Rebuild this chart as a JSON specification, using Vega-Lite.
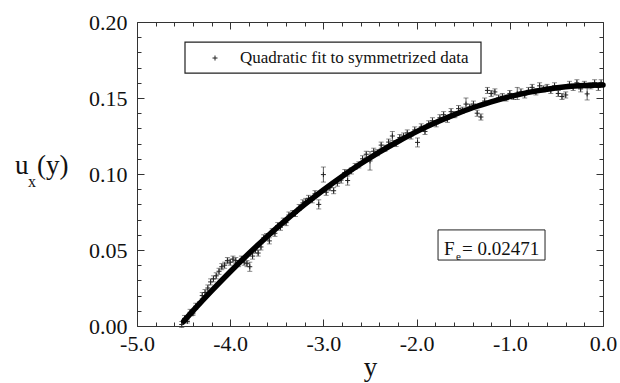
{
  "$schema": "https://vega.github.io/schema/vega-lite/v6.json",
  "autosize": {"type": "none"},
  "width": 466,
  "height": 304,
  "padding": {"left": 137, "top": 22, "right": 17, "bottom": 57},
  "background": "white",
  "config": {
    "view": {"stroke": "#333", "strokeWidth": 1},
    "font": "Liberation Serif",
    "scale": {"continuousPadding": 0},
    "axis": {"grid": false, "domain": false, "labelFlush": false, "labelOverlap": false, "labelFont": "Liberation Serif", "titleFont": "Liberation Serif", "tickColor": "#333", "tickWidth": 1}
  },
  "datasets": {
    "fit": [
      {"x": -4.5, "u": 0.0031}, {"x": -4.4, "u": 0.0099}, {"x": -4.2, "u": 0.0231}, {"x": -4.0, "u": 0.0357},
      {"x": -3.8, "u": 0.0477}, {"x": -3.6, "u": 0.0591}, {"x": -3.4, "u": 0.0698}, {"x": -3.2, "u": 0.08},
      {"x": -3.0, "u": 0.0895}, {"x": -2.8, "u": 0.0984}, {"x": -2.6, "u": 0.1067}, {"x": -2.4, "u": 0.1144},
      {"x": -2.2, "u": 0.1214}, {"x": -2.0, "u": 0.1279}, {"x": -1.8, "u": 0.1337}, {"x": -1.6, "u": 0.1389},
      {"x": -1.4, "u": 0.1436}, {"x": -1.2, "u": 0.1475}, {"x": -1.0, "u": 0.1509}, {"x": -0.8, "u": 0.1537},
      {"x": -0.6, "u": 0.1558}, {"x": -0.4, "u": 0.1574}, {"x": -0.2, "u": 0.1583}, {"x": 0.0, "u": 0.1586}
    ],
    "pts": [
      {"x": -4.52, "u": 0.001, "lo": -0.001, "hi": 0.003},
      {"x": -4.49, "u": 0.005, "lo": 0.003, "hi": 0.007},
      {"x": -4.46, "u": 0.003, "lo": 0.002, "hi": 0.004},
      {"x": -4.43, "u": 0.009, "lo": 0.007, "hi": 0.011},
      {"x": -4.40, "u": 0.008, "lo": 0.007, "hi": 0.009},
      {"x": -4.37, "u": 0.013, "lo": 0.011, "hi": 0.015},
      {"x": -4.33, "u": 0.015, "lo": 0.014, "hi": 0.016},
      {"x": -4.30, "u": 0.020, "lo": 0.018, "hi": 0.022},
      {"x": -4.27, "u": 0.022, "lo": 0.020, "hi": 0.024},
      {"x": -4.24, "u": 0.025, "lo": 0.023, "hi": 0.027},
      {"x": -4.21, "u": 0.029, "lo": 0.027, "hi": 0.031},
      {"x": -4.18, "u": 0.031, "lo": 0.029, "hi": 0.033},
      {"x": -4.15, "u": 0.033, "lo": 0.031, "hi": 0.035},
      {"x": -4.12, "u": 0.036, "lo": 0.034, "hi": 0.038},
      {"x": -4.09, "u": 0.039, "lo": 0.037, "hi": 0.041},
      {"x": -4.06, "u": 0.040, "lo": 0.038, "hi": 0.042},
      {"x": -4.03, "u": 0.043, "lo": 0.041, "hi": 0.045},
      {"x": -4.00, "u": 0.042, "lo": 0.040, "hi": 0.044},
      {"x": -3.97, "u": 0.044, "lo": 0.042, "hi": 0.046},
      {"x": -3.94, "u": 0.043, "lo": 0.041, "hi": 0.045},
      {"x": -3.91, "u": 0.041, "lo": 0.039, "hi": 0.043},
      {"x": -3.88, "u": 0.044, "lo": 0.042, "hi": 0.046},
      {"x": -3.85, "u": 0.042, "lo": 0.040, "hi": 0.044},
      {"x": -3.82, "u": 0.041, "lo": 0.039, "hi": 0.043},
      {"x": -3.79, "u": 0.039, "lo": 0.036, "hi": 0.042},
      {"x": -3.76, "u": 0.046, "lo": 0.044, "hi": 0.048},
      {"x": -3.73, "u": 0.050, "lo": 0.048, "hi": 0.052},
      {"x": -3.70, "u": 0.048, "lo": 0.046, "hi": 0.050},
      {"x": -3.67, "u": 0.052, "lo": 0.050, "hi": 0.054},
      {"x": -3.64, "u": 0.058, "lo": 0.056, "hi": 0.060},
      {"x": -3.61, "u": 0.059, "lo": 0.057, "hi": 0.061},
      {"x": -3.58, "u": 0.056, "lo": 0.054, "hi": 0.058},
      {"x": -3.55, "u": 0.062, "lo": 0.060, "hi": 0.064},
      {"x": -3.52, "u": 0.061, "lo": 0.059, "hi": 0.063},
      {"x": -3.49, "u": 0.066, "lo": 0.064, "hi": 0.068},
      {"x": -3.46, "u": 0.065, "lo": 0.063, "hi": 0.067},
      {"x": -3.43, "u": 0.069, "lo": 0.067, "hi": 0.071},
      {"x": -3.40, "u": 0.068, "lo": 0.066, "hi": 0.070},
      {"x": -3.37, "u": 0.073, "lo": 0.071, "hi": 0.075},
      {"x": -3.33, "u": 0.074, "lo": 0.072, "hi": 0.076},
      {"x": -3.30, "u": 0.074, "lo": 0.072, "hi": 0.076},
      {"x": -3.26, "u": 0.078, "lo": 0.076, "hi": 0.080},
      {"x": -3.22, "u": 0.081, "lo": 0.079, "hi": 0.083},
      {"x": -3.19, "u": 0.082, "lo": 0.080, "hi": 0.084},
      {"x": -3.16, "u": 0.084, "lo": 0.082, "hi": 0.086},
      {"x": -3.12, "u": 0.083, "lo": 0.081, "hi": 0.085},
      {"x": -3.09, "u": 0.087, "lo": 0.085, "hi": 0.089},
      {"x": -3.05, "u": 0.080, "lo": 0.077, "hi": 0.083},
      {"x": -3.00, "u": 0.0996, "lo": 0.0947, "hi": 0.1046},
      {"x": -2.97, "u": 0.088, "lo": 0.086, "hi": 0.090},
      {"x": -2.93, "u": 0.091, "lo": 0.089, "hi": 0.093},
      {"x": -2.89, "u": 0.089, "lo": 0.087, "hi": 0.091},
      {"x": -2.85, "u": 0.094, "lo": 0.092, "hi": 0.096},
      {"x": -2.81, "u": 0.096, "lo": 0.094, "hi": 0.098},
      {"x": -2.77, "u": 0.101, "lo": 0.099, "hi": 0.103},
      {"x": -2.74, "u": 0.0957, "lo": 0.0927, "hi": 0.0987},
      {"x": -2.70, "u": 0.102, "lo": 0.100, "hi": 0.104},
      {"x": -2.66, "u": 0.105, "lo": 0.103, "hi": 0.107},
      {"x": -2.62, "u": 0.106, "lo": 0.104, "hi": 0.108},
      {"x": -2.58, "u": 0.110, "lo": 0.108, "hi": 0.112},
      {"x": -2.54, "u": 0.113, "lo": 0.111, "hi": 0.115},
      {"x": -2.50, "u": 0.1086, "lo": 0.1026, "hi": 0.1147},
      {"x": -2.46, "u": 0.115, "lo": 0.113, "hi": 0.117},
      {"x": -2.42, "u": 0.114, "lo": 0.112, "hi": 0.116},
      {"x": -2.38, "u": 0.119, "lo": 0.117, "hi": 0.121},
      {"x": -2.34, "u": 0.117, "lo": 0.115, "hi": 0.119},
      {"x": -2.30, "u": 0.121, "lo": 0.119, "hi": 0.123},
      {"x": -2.26, "u": 0.125, "lo": 0.122, "hi": 0.128},
      {"x": -2.22, "u": 0.120, "lo": 0.118, "hi": 0.122},
      {"x": -2.18, "u": 0.124, "lo": 0.122, "hi": 0.126},
      {"x": -2.14, "u": 0.125, "lo": 0.123, "hi": 0.127},
      {"x": -2.10, "u": 0.127, "lo": 0.125, "hi": 0.129},
      {"x": -2.06, "u": 0.125, "lo": 0.123, "hi": 0.127},
      {"x": -2.02, "u": 0.129, "lo": 0.127, "hi": 0.131},
      {"x": -1.99, "u": 0.1208, "lo": 0.1178, "hi": 0.1237},
      {"x": -1.95, "u": 0.131, "lo": 0.129, "hi": 0.133},
      {"x": -1.91, "u": 0.128, "lo": 0.126, "hi": 0.130},
      {"x": -1.87, "u": 0.133, "lo": 0.131, "hi": 0.135},
      {"x": -1.83, "u": 0.135, "lo": 0.133, "hi": 0.137},
      {"x": -1.79, "u": 0.133, "lo": 0.131, "hi": 0.135},
      {"x": -1.75, "u": 0.137, "lo": 0.135, "hi": 0.139},
      {"x": -1.71, "u": 0.139, "lo": 0.137, "hi": 0.141},
      {"x": -1.67, "u": 0.136, "lo": 0.134, "hi": 0.138},
      {"x": -1.63, "u": 0.141, "lo": 0.139, "hi": 0.143},
      {"x": -1.59, "u": 0.139, "lo": 0.137, "hi": 0.141},
      {"x": -1.55, "u": 0.143, "lo": 0.141, "hi": 0.145},
      {"x": -1.51, "u": 0.142, "lo": 0.140, "hi": 0.144},
      {"x": -1.47, "u": 0.146, "lo": 0.142, "hi": 0.150},
      {"x": -1.43, "u": 0.144, "lo": 0.142, "hi": 0.146},
      {"x": -1.39, "u": 0.146, "lo": 0.144, "hi": 0.148},
      {"x": -1.35, "u": 0.140, "lo": 0.138, "hi": 0.142},
      {"x": -1.31, "u": 0.1375, "lo": 0.1355, "hi": 0.1395},
      {"x": -1.27, "u": 0.148, "lo": 0.146, "hi": 0.150},
      {"x": -1.24, "u": 0.155, "lo": 0.153, "hi": 0.157},
      {"x": -1.20, "u": 0.153, "lo": 0.151, "hi": 0.155},
      {"x": -1.16, "u": 0.154, "lo": 0.152, "hi": 0.156},
      {"x": -1.12, "u": 0.150, "lo": 0.148, "hi": 0.152},
      {"x": -1.08, "u": 0.151, "lo": 0.149, "hi": 0.153},
      {"x": -1.04, "u": 0.150, "lo": 0.148, "hi": 0.152},
      {"x": -1.00, "u": 0.153, "lo": 0.151, "hi": 0.155},
      {"x": -0.96, "u": 0.151, "lo": 0.149, "hi": 0.153},
      {"x": -0.92, "u": 0.153, "lo": 0.149, "hi": 0.157},
      {"x": -0.88, "u": 0.154, "lo": 0.152, "hi": 0.156},
      {"x": -0.84, "u": 0.152, "lo": 0.150, "hi": 0.154},
      {"x": -0.80, "u": 0.155, "lo": 0.153, "hi": 0.157},
      {"x": -0.76, "u": 0.157, "lo": 0.155, "hi": 0.159},
      {"x": -0.72, "u": 0.154, "lo": 0.152, "hi": 0.156},
      {"x": -0.68, "u": 0.158, "lo": 0.156, "hi": 0.160},
      {"x": -0.64, "u": 0.156, "lo": 0.154, "hi": 0.158},
      {"x": -0.60, "u": 0.157, "lo": 0.155, "hi": 0.159},
      {"x": -0.56, "u": 0.155, "lo": 0.153, "hi": 0.157},
      {"x": -0.52, "u": 0.158, "lo": 0.156, "hi": 0.160},
      {"x": -0.48, "u": 0.153, "lo": 0.151, "hi": 0.155},
      {"x": -0.44, "u": 0.151, "lo": 0.149, "hi": 0.153},
      {"x": -0.40, "u": 0.152, "lo": 0.150, "hi": 0.154},
      {"x": -0.36, "u": 0.159, "lo": 0.157, "hi": 0.161},
      {"x": -0.32, "u": 0.157, "lo": 0.155, "hi": 0.159},
      {"x": -0.28, "u": 0.160, "lo": 0.158, "hi": 0.162},
      {"x": -0.24, "u": 0.156, "lo": 0.154, "hi": 0.158},
      {"x": -0.20, "u": 0.159, "lo": 0.157, "hi": 0.161},
      {"x": -0.17, "u": 0.1527, "lo": 0.1487, "hi": 0.1566},
      {"x": -0.13, "u": 0.158, "lo": 0.156, "hi": 0.160},
      {"x": -0.09, "u": 0.160, "lo": 0.158, "hi": 0.162},
      {"x": -0.05, "u": 0.157, "lo": 0.155, "hi": 0.159},
      {"x": -0.02, "u": 0.160, "lo": 0.158, "hi": 0.162}
    ]
  },
  "resolve": {"scale": {"x": "shared", "y": "shared"}, "axis": {"x": "independent", "y": "independent"}},
  "layer": [
    {
      "data": {"name": "pts"},
      "mark": {"type": "rule", "color": "#333", "strokeWidth": 0.8},
      "encoding": {
        "x": {"field": "x", "type": "quantitative", "scale": {"domain": [-5, 0], "nice": false, "zero": false, "padding": 0},
          "axis": {"orient": "bottom", "values": [-4.8,-4.6,-4.4,-4.2,-3.8,-3.6,-3.4,-3.2,-2.8,-2.6,-2.4,-2.2,-1.8,-1.6,-1.4,-1.2,-0.8,-0.6,-0.4,-0.2], "tickSize": -4, "labels": false, "title": null}},
        "y": {"field": "lo", "type": "quantitative", "scale": {"domain": [0, 0.2], "nice": false, "zero": false, "padding": 0},
          "axis": {"orient": "left", "values": [0.01,0.02,0.03,0.04,0.06,0.07,0.08,0.09,0.11,0.12,0.13,0.14,0.16,0.17,0.18,0.19], "tickSize": -4, "labels": false, "title": null}},
        "y2": {"field": "hi"}
      }
    },
    {
      "data": {"name": "pts"},
      "mark": {"type": "tick", "orient": "horizontal", "color": "#333", "size": 5, "thickness": 0.8},
      "encoding": {
        "x": {"field": "x", "type": "quantitative", "scale": {"domain": [-5, 0], "nice": false, "zero": false, "padding": 0},
          "axis": {"orient": "top", "values": [-4.8,-4.6,-4.4,-4.2,-3.8,-3.6,-3.4,-3.2,-2.8,-2.6,-2.4,-2.2,-1.8,-1.6,-1.4,-1.2,-0.8,-0.6,-0.4,-0.2], "tickSize": -4, "labels": false, "title": null}},
        "y": {"field": "lo", "type": "quantitative", "scale": {"domain": [0, 0.2], "nice": false, "zero": false, "padding": 0},
          "axis": {"orient": "right", "values": [0.01,0.02,0.03,0.04,0.06,0.07,0.08,0.09,0.11,0.12,0.13,0.14,0.16,0.17,0.18,0.19], "tickSize": -4, "labels": false, "title": null}}
      }
    },
    {
      "data": {"name": "pts"},
      "mark": {"type": "tick", "orient": "horizontal", "color": "#333", "size": 5, "thickness": 0.8},
      "encoding": {
        "x": {"field": "x", "type": "quantitative", "scale": {"domain": [-5, 0], "nice": false, "zero": false, "padding": 0},
          "axis": {"orient": "top", "values": [-5, -4, -3, -2, -1, 0], "tickSize": -7, "labels": false, "title": null}},
        "y": {"field": "hi", "type": "quantitative", "scale": {"domain": [0, 0.2], "nice": false, "zero": false, "padding": 0},
          "axis": {"orient": "right", "values": [0, 0.05, 0.1, 0.15, 0.2], "tickSize": -7, "labels": false, "title": null}}
      }
    },
    {
      "data": {"name": "pts"},
      "mark": {"type": "point", "shape": "M-1,0L1,0M0,-1L0,1", "size": 25, "filled": false, "stroke": "#222", "strokeWidth": 1, "opacity": 1},
      "encoding": {
        "x": {"field": "x", "type": "quantitative", "scale": {"domain": [-5, 0], "nice": false, "zero": false, "padding": 0},
          "axis": {"orient": "bottom", "values": [-5, -4, -3, -2, -1, 0], "tickSize": -7, "labels": false, "title": null}},
        "y": {"field": "u", "type": "quantitative", "scale": {"domain": [0, 0.2], "nice": false, "zero": false, "padding": 0},
          "axis": {"orient": "left", "values": [0, 0.05, 0.1, 0.15, 0.2], "tickSize": -7, "labels": false, "title": null}}
      }
    },
    {
      "data": {"name": "fit"},
      "mark": {"type": "line", "color": "black", "strokeWidth": 5.5, "strokeCap": "round", "interpolate": "monotone"},
      "encoding": {
        "x": {"field": "x", "type": "quantitative", "scale": {"domain": [-5, 0], "nice": false, "zero": false, "padding": 0},
          "axis": {"orient": "bottom", "values": [-5, -4, -3, -2, -1, 0], "ticks": false, "labelPadding": 7, "labelFontSize": 22, "labelColor": "#111",
            "labelExpr": "datum.value < 0 ? '-' + format(-datum.value, '.1f') : format(datum.value, '.1f')",
            "title": "y", "titleFontSize": 27, "titleFontWeight": "normal", "titleColor": "#111", "titleY": 49, "titleBaseline": "alphabetic"}},
        "y": {"field": "u", "type": "quantitative", "scale": {"domain": [0, 0.2], "nice": false, "zero": false, "padding": 0},
          "axis": {"orient": "left", "values": [0, 0.05, 0.1, 0.15, 0.2], "ticks": false, "labelPadding": 10, "labelFontSize": 22, "labelColor": "#111", "format": ".2f", "title": null}}
      }
    },
    {
      "data": {"values": [{}]},
      "mark": {"type": "rect", "fill": "white", "stroke": "#222", "strokeWidth": 1.2},
      "encoding": {
        "x": {"datum": -4.485, "type": "quantitative", "axis": null},
        "x2": {"datum": -1.309},
        "y": {"datum": 0.1868, "type": "quantitative", "axis": null},
        "y2": {"datum": 0.1664}
      }
    },
    {
      "data": {"values": [{}]},
      "mark": {"type": "point", "shape": "M-1,0L1,0M0,-1L0,1", "size": 25, "filled": false, "stroke": "#222", "strokeWidth": 1, "opacity": 1},
      "encoding": {
        "x": {"datum": -4.163, "type": "quantitative", "axis": null},
        "y": {"datum": 0.1763, "type": "quantitative", "axis": null}
      }
    },
    {
      "data": {"values": [{"label": "Quadratic fit to symmetrized data"}]},
      "mark": {"type": "text", "align": "left", "baseline": "middle", "fontSize": 17, "font": "Liberation Serif", "color": "#111"},
      "encoding": {
        "x": {"datum": -3.895, "type": "quantitative", "axis": null},
        "y": {"datum": 0.1763, "type": "quantitative", "axis": null},
        "text": {"field": "label"}
      }
    },
    {
      "data": {"values": [{}]},
      "mark": {"type": "rect", "fill": "white", "stroke": "#222", "strokeWidth": 1},
      "encoding": {
        "x": {"datum": -1.77, "type": "quantitative", "axis": null},
        "x2": {"datum": -0.622},
        "y": {"datum": 0.0632, "type": "quantitative", "axis": null},
        "y2": {"datum": 0.0434}
      }
    },
    {
      "data": {"values": [{"label": "F"}]},
      "mark": {"type": "text", "align": "left", "baseline": "alphabetic", "fontSize": 19, "font": "Liberation Serif", "color": "#111"},
      "encoding": {
        "x": {"datum": -1.706, "type": "quantitative", "axis": null},
        "y": {"datum": 0.0467, "type": "quantitative", "axis": null},
        "text": {"field": "label"}
      }
    },
    {
      "data": {"values": [{"label": "e"}]},
      "mark": {"type": "text", "align": "left", "baseline": "alphabetic", "fontSize": 11, "font": "Liberation Serif", "color": "#111"},
      "encoding": {
        "x": {"datum": -1.577, "type": "quantitative", "axis": null},
        "y": {"datum": 0.0437, "type": "quantitative", "axis": null},
        "text": {"field": "label"}
      }
    },
    {
      "data": {"values": [{"label": "= 0.02471"}]},
      "mark": {"type": "text", "align": "left", "baseline": "alphabetic", "fontSize": 19, "font": "Liberation Serif", "color": "#111"},
      "encoding": {
        "x": {"datum": -1.513, "type": "quantitative", "axis": null},
        "y": {"datum": 0.0467, "type": "quantitative", "axis": null},
        "text": {"field": "label"}
      }
    },
    {
      "data": {"values": [{"label": "u"}]},
      "mark": {"type": "text", "align": "left", "baseline": "alphabetic", "fontSize": 27, "font": "Liberation Serif", "color": "#111"},
      "encoding": {
        "x": {"datum": -6.309, "type": "quantitative", "axis": null},
        "y": {"datum": 0.1, "type": "quantitative", "axis": null},
        "text": {"field": "label"}
      }
    },
    {
      "data": {"values": [{"label": "x"}]},
      "mark": {"type": "text", "align": "left", "baseline": "alphabetic", "fontSize": 16, "font": "Liberation Serif", "color": "#111"},
      "encoding": {
        "x": {"datum": -6.17, "type": "quantitative", "axis": null},
        "y": {"datum": 0.0914, "type": "quantitative", "axis": null},
        "text": {"field": "label"}
      }
    },
    {
      "data": {"values": [{"label": "(y)"}]},
      "mark": {"type": "text", "align": "left", "baseline": "alphabetic", "fontSize": 27, "font": "Liberation Serif", "color": "#111"},
      "encoding": {
        "x": {"datum": -6.073, "type": "quantitative", "axis": null},
        "y": {"datum": 0.1, "type": "quantitative", "axis": null},
        "text": {"field": "label"}
      }
    }
  ]
}
